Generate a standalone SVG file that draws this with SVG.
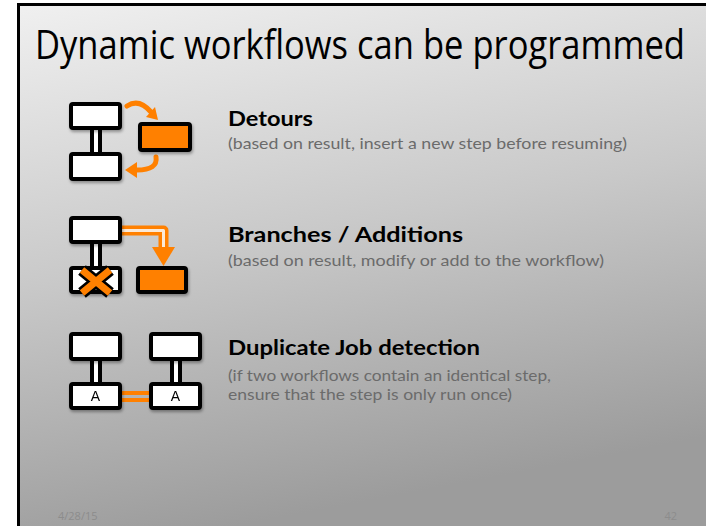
<svg xmlns="http://www.w3.org/2000/svg" width="706" height="526" viewBox="0 0 706 526">
  <defs>
    <linearGradient id="bg" x1="0" y1="0" x2="0.25" y2="1">
      <stop offset="0" stop-color="#f0f0f0"/>
      <stop offset="0.5" stop-color="#c9c9c9"/>
      <stop offset="1" stop-color="#9c9c9c"/>
    </linearGradient>
    <filter id="shadow" x="-20%" y="-20%" width="140%" height="160%">
      <feDropShadow dx="1" dy="2" stdDeviation="1.5" flood-color="#000" flood-opacity="0.35"/>
    </filter>
    <style>
      .box { fill: #ffffff; stroke: #000; stroke-width: 4; }
      .obox { fill: #ff8000; stroke: #000; stroke-width: 4; }
      .link { fill: #ffffff; stroke: #000; stroke-width: 4; }
      .arrow { fill: none; stroke: #ff8000; stroke-width: 5; stroke-linecap: round; }
      .head { fill: #ff8000; }
      .title { font-family: "Open Sans", "Liberation Sans", sans-serif; font-size: 34.5px; fill: #000; }
      .h { font-family: Lato, "DejaVu Sans", sans-serif; font-weight: bold; font-size: 21px; fill: #000; }
      .sub { font-family: Lato, "DejaVu Sans", sans-serif; font-size: 15px; fill: #6b6b6b; }
      .foot { font-family: "Open Sans", "Liberation Sans", sans-serif; font-size: 11px; fill: #8c8c8c; }
      .lbl { font-family: "Liberation Sans", Arial, sans-serif; font-size: 14px; fill: #000; text-anchor: middle; }
    </style>
  </defs>

  <!-- slide background and frame -->
  <rect x="0" y="0" width="706" height="526" fill="#ffffff"/>
  <rect x="18" y="4" width="700" height="530" fill="url(#bg)"/>
  <path d="M18.5,526 V4.5 H706" fill="none" stroke="#000" stroke-width="3"/>

  <text class="title" transform="translate(35,59) scale(1,1.14)" x="0" y="0" textLength="650" lengthAdjust="spacingAndGlyphs">Dynamic workflows can be programmed</text>

  <!-- connectors -->
  <g id="connectors">
    <!-- detour icon -->
    <rect class="link" x="92" y="127" width="8" height="29"/>
    <path class="arrow" d="M127,106 Q139,98 151,112"/>
    <polygon class="head" points="158,120 146,117 155,107"/>
    <path class="arrow" d="M156,157 Q158,170 137,170"/>
    <polygon class="head" points="125,170 137,162 137,178"/>
    <!-- branch icon -->
    <rect class="link" x="92" y="241" width="8" height="29"/>
    <path d="M120,230.5 H163.5 V250" fill="none" stroke="#ff8000" stroke-width="10" stroke-linejoin="round"/>
    <path d="M120,230.5 H163.5 V250" fill="none" stroke="#fbe9d6" stroke-width="3" stroke-linejoin="round"/>
    <polygon class="head" points="163.5,266 152,247 175,247"/>
    <!-- duplicate icon -->
    <rect class="link" x="92" y="358" width="8" height="28"/>
    <rect class="link" x="172" y="358" width="8" height="28"/>
    <path d="M120,393 H151 M120,400 H151" stroke="#ff8000" stroke-width="4"/>
  </g>

  <!-- detours -->
  <g id="detour-step1" filter="url(#shadow)"><rect class="box" x="71" y="104" width="49" height="24" rx="2"/></g>
  <g id="detour-step2" filter="url(#shadow)"><rect class="box" x="71" y="154" width="49" height="25" rx="2"/></g>
  <g id="detour-inserted" filter="url(#shadow)"><rect class="obox" x="140" y="124" width="50" height="26" rx="2"/></g>
  <g id="detours-text">
    <text class="h" x="228" y="126" textLength="85" lengthAdjust="spacingAndGlyphs">Detours</text>
    <text class="sub" x="228" y="149" textLength="399" lengthAdjust="spacingAndGlyphs">(based on result, insert a new step before resuming)</text>
  </g>

  <!-- branches / additions -->
  <g id="branch-step1" filter="url(#shadow)"><rect class="box" x="71" y="218" width="49" height="24" rx="2"/></g>
  <g id="branch-removed">
    <rect class="box" x="71" y="268" width="49" height="24" rx="2" filter="url(#shadow)"/>
    <path d="M82,270 L110,293 M110,270 L82,293" stroke="#000" stroke-width="12"/>
    <path d="M82,270 L110,293 M110,270 L82,293" stroke="#ff8000" stroke-width="7"/>
  </g>
  <g id="branch-added" filter="url(#shadow)"><rect class="obox" x="138" y="268" width="48" height="24" rx="2"/></g>
  <g id="branches-text">
    <text class="h" x="228" y="242" textLength="235" lengthAdjust="spacingAndGlyphs">Branches / Additions</text>
    <text class="sub" x="228" y="266" textLength="376" lengthAdjust="spacingAndGlyphs">(based on result, modify or add to the workflow)</text>
  </g>

  <!-- duplicate job detection -->
  <g id="wf1-step1" filter="url(#shadow)"><rect class="box" x="71" y="334" width="49" height="25" rx="2"/></g>
  <g id="wf1-stepA" filter="url(#shadow)"><rect class="box" x="71" y="384" width="49" height="24" rx="2"/><text class="lbl" x="95.5" y="401">A</text></g>
  <g id="wf2-step1" filter="url(#shadow)"><rect class="box" x="151" y="334" width="49" height="25" rx="2"/></g>
  <g id="wf2-stepA" filter="url(#shadow)"><rect class="box" x="151" y="384" width="49" height="24" rx="2"/><text class="lbl" x="175.5" y="401">A</text></g>
  <g id="duplicate-text">
    <text class="h" x="228" y="355" textLength="252" lengthAdjust="spacingAndGlyphs">Duplicate Job detection</text>
    <text class="sub" x="228" y="381" textLength="323" lengthAdjust="spacingAndGlyphs">(if two workflows contain an identical step,</text>
    <text class="sub" x="228" y="400" textLength="284" lengthAdjust="spacingAndGlyphs">ensure that the step is only run once)</text>
  </g>

  <!-- footer -->
  <text class="foot" x="58" y="520">4/28/15</text>
  <text class="foot" x="677" y="520" text-anchor="end">42</text>
</svg>
